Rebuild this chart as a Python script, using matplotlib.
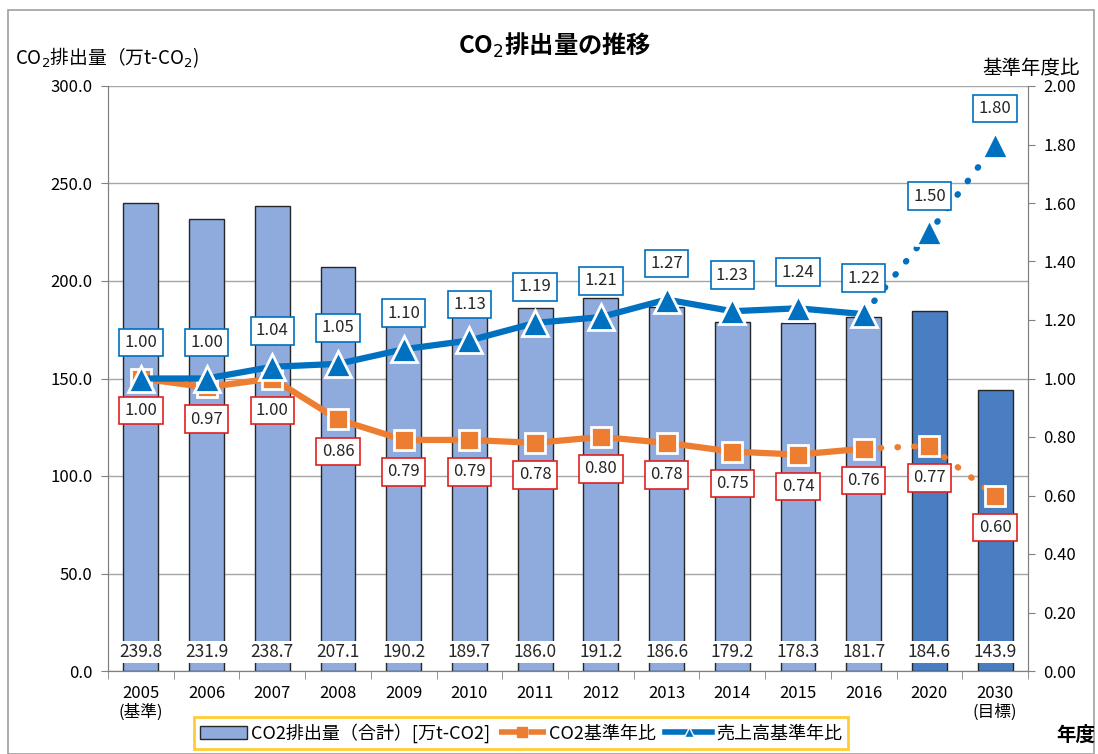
import matplotlib
matplotlib.use("Agg")
import matplotlib.pyplot as plt
from matplotlib.patches import Rectangle, Patch
from matplotlib.lines import Line2D
import numpy as np

plt.rcParams['font.family'] = ['Noto Sans CJK JP', 'DejaVu Sans']

years = ["2005\n(基準)", "2006", "2007", "2008", "2009", "2010", "2011", "2012",
         "2013", "2014", "2015", "2016", "2020", "2030\n(目標)"]
co2_total = [239.8, 231.9, 238.7, 207.1, 190.2, 189.7, 186.0, 191.2,
             186.6, 179.2, 178.3, 181.7, 184.6, 143.9]
co2_ratio = [1.00, 0.97, 1.00, 0.86, 0.79, 0.79, 0.78, 0.80,
             0.78, 0.75, 0.74, 0.76, 0.77, 0.60]
sales_ratio = [1.00, 1.00, 1.04, 1.05, 1.10, 1.13, 1.19, 1.21,
               1.27, 1.23, 1.24, 1.22, 1.50, 1.80]
n_actual = 12  # 2005-2016 actual, 2020/2030 targets

light_bar = '#8FAADC'
dark_bar = '#4A7EC2'
orange = '#ED7D31'
blue = '#0070C0'

fig = plt.figure(figsize=(10.98, 7.54), dpi=100)
ax = fig.add_axes([108/1098, 1-671/754, 920/1098, 585/754])
ax2 = ax.twinx()

x = np.arange(len(years))
colors = [light_bar]*n_actual + [dark_bar]*(len(years)-n_actual)
ax.bar(x, co2_total, width=0.53, color=colors, edgecolor='#262626', linewidth=1.0, zorder=2)

ax.set_xlim(-0.5, len(years)-0.5)
ax.set_ylim(0, 300)
ax.set_yticks(np.arange(0, 301, 50))
ax.set_yticklabels([f"{v:.1f}" for v in np.arange(0, 301, 50)], fontsize=12)
ax.yaxis.grid(True, color='#A6A6A6', linewidth=1.0, zorder=0)
ax.set_axisbelow(True)
ax.set_xticks(x)
ax.set_xticklabels(years, fontsize=12, linespacing=1.1)
ax.tick_params(axis='x', length=0, pad=10)
ax.set_xticks(np.arange(-0.5, len(years), 1), minor=True)
ax.tick_params(axis='x', which='minor', length=6, color='#808080')
ax.tick_params(axis='y', length=5, color='#808080', pad=6)

for a in (ax, ax2):
    a.spines['top'].set_visible(False)
    a.spines['left'].set_color('#808080')
    a.spines['right'].set_color('#808080')
    a.spines['bottom'].set_color('#808080')

# bar value labels
for xi, v in zip(x, co2_total):
    ax.text(xi, 9.7, f"{v:.1f}", ha='center', va='center', fontsize=12.5, color='#262626',
            bbox=dict(boxstyle='square,pad=0.12', facecolor='white', edgecolor='none'), zorder=5)

ax2.set_ylim(0, 2.0)
ax2.set_yticks(np.arange(0, 2.01, 0.2))
ax2.set_yticklabels([f"{v:.2f}" for v in np.arange(0, 2.01, 0.2)], fontsize=12)
ax2.tick_params(axis='y', length=5, color='#808080', pad=6)

# orange line
ax2.plot(x[:n_actual], co2_ratio[:n_actual], color=orange, linewidth=4.5, zorder=3)
ax2.plot(x[n_actual-1:], co2_ratio[n_actual-1:], color=orange, linewidth=4.5,
         linestyle=(0, (0.1, 2.6)), dash_capstyle='round', zorder=3)
ax2.plot(x, co2_ratio, linestyle='none', marker='s', markersize=15, color=orange,
         markeredgecolor='white', markeredgewidth=2, zorder=4)

# blue line
ax2.plot(x[:n_actual], sales_ratio[:n_actual], color=blue, linewidth=4.5, zorder=5)
ax2.plot(x[n_actual-1:], sales_ratio[n_actual-1:], color=blue, linewidth=4.5,
         linestyle=(0, (0.1, 2.6)), dash_capstyle='round', zorder=5)
ax2.plot(x, sales_ratio, linestyle='none', marker='^', markersize=19, color=blue,
         markeredgecolor='white', markeredgewidth=2, zorder=6)

for xi, v in zip(x, sales_ratio):
    ax2.annotate(f"{v:.2f}", (xi, v), xytext=(0, 26), textcoords='offset points',
                 ha='center', va='center', fontsize=12, color='#262626', zorder=8,
                 bbox=dict(boxstyle='square,pad=0.32', facecolor='white', edgecolor=blue, linewidth=1.2))
for xi, v in zip(x, co2_ratio):
    ax2.annotate(f"{v:.2f}", (xi, v), xytext=(0, -23), textcoords='offset points',
                 ha='center', va='center', fontsize=12, color='#262626', zorder=7,
                 bbox=dict(boxstyle='square,pad=0.32', facecolor='white', edgecolor='#E02020', linewidth=1.2))
ax2.set_zorder(ax.get_zorder()+1)
ax2.patch.set_visible(False)

# titles and axis labels
fig.text(555/1098, 1-45/754, "CO$_2$排出量の推移", ha='center', va='center', fontsize=17.5, fontweight='bold')
fig.text(15/1098, 1-58/754, "CO$_2$排出量（万t-CO$_2$)", ha='left', va='center', fontsize=13.5)
fig.text(1080/1098, 1-68/754, "基準年度比", ha='right', va='center', fontsize=14)
fig.text(1076/1098, 1-735/754, "年度", ha='center', va='center', fontsize=14, fontweight='bold')

# legend
handles = [Patch(facecolor=light_bar, edgecolor='#262626', linewidth=1.0),
           Line2D([0], [0], color=orange, linewidth=4, linestyle='--', marker='s', markersize=7),
           Line2D([0], [0], color=blue, linewidth=4, marker='^', markersize=7, markeredgecolor='white')]
labels = ["CO2排出量（合計）[万t-CO2]", "CO2基準年比", "売上高基準年比"]
leg = fig.legend(handles, labels, loc='center', bbox_to_anchor=(521/1098, 1-733/754), ncol=3,
                 fontsize=13, frameon=True, fancybox=False, handlelength=2.6, handletextpad=0.2,
                 columnspacing=0.5, borderpad=0.35)
leg.get_frame().set_edgecolor('#FFC000')
leg.get_frame().set_linewidth(2)

# outer border
fig.patches.append(Rectangle((8/1098, 0), 1086/1098, 1-10/754, transform=fig.transFigure,
                             fill=False, edgecolor='#A0A0A0', linewidth=1.2))

fig.savefig("out.png", dpi=100)
